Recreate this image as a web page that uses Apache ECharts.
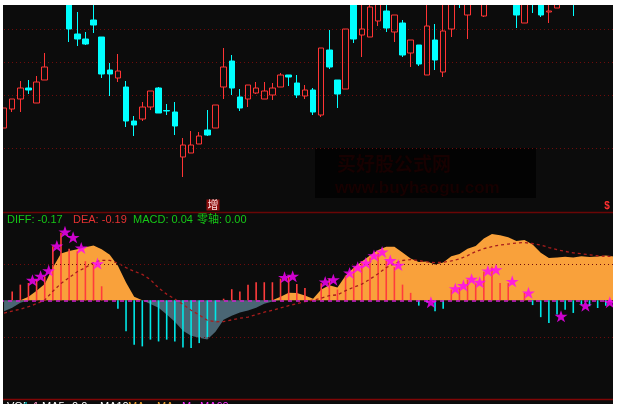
<!DOCTYPE html>
<html><head><meta charset="utf-8">
<style>html,body{margin:0;padding:0;background:#fff;}#c{width:618px;height:410px;}</style>
<script src="https://cdn.jsdelivr.net/npm/echarts@6/dist/echarts.min.js"></script>
</head><body><div id="c"></div>
<script>
// ---- data ----
const categories = Array.from({length: 76}, (_, i) => 'D' + (i + 1));
const openP  = [8.4,10.3,11.3,12.4,10.9,13.2,21.0,23.5,22.0,17.8, 17.3,19.2,17.5,14.2,13.4,12.5,9.1,9.3,10.5,12.4, 10.15,10.0,5.5,5.9,6.8,8.2,8.4,12.5,15.1,11.5, 11.3,11.9,11.3,11.7,12.5,13.7,12.9,11.6,12.2,9.7, 16.2,13.2,12.3,21.0,17.7,17.5,19.1,20.1,18.0,18.9, 15.9,16.7,13.7,17.2,14.0,18.3,22.5,19.7,21.5,19.6, 22.0,23.5,22.5,21.5,18.9,21.8,21.2,20.0,20.4,22.0, 21.8,21.5,22.0,22.6,22.2,22.8];
const closeP = [10.4,11.3,12.4,12.2,13.0,14.5,23.0,25.0,18.3,17.3, 16.8,18.7,13.8,13.8,14.1,9.1,8.7,10.5,12.1,9.9, 10.1,8.6,6.7,6.7,7.6,7.7,10.7,14.5,12.4,10.4, 12.7,12.4,12.1,12.4,13.7,13.5,11.7,12.2,10.0,16.4, 14.5,11.8,18.3,17.3,18.3,20.5,21.5,18.4,19.7,15.7, 17.2,14.8,18.6,15.2,18.1,21.2,21.6,21.5,22.5,22.0, 23.5,22.5,21.5,19.7,21.0,21.0,19.7,20.1,21.5,21.2, 21.0,22.0,22.6,22.2,22.8,22.4];
const lowP   = [8.4,10.0,10.0,11.8,10.9,13.2,20.9,22.8,17.0,16.6, 16.7,17.9,13.4,11.6,13.0,8.5,7.6,9.1,10.2,9.9, 9.7,7.7,3.5,5.9,6.8,7.6,8.4,11.3,11.7,10.1, 10.5,11.8,11.3,11.2,12.5,12.6,11.4,11.3,9.7,9.5, 14.3,10.4,12.3,16.9,15.5,17.5,18.6,18.0,17.0,15.5, 14.5,14.6,13.7,14.2,13.5,17.5,20.4,17.3,21.0,19.5, 21.0,21.5,21.0,18.4,18.9,19.9,19.5,18.9,20.4,20.9, 19.6,21.0,21.4,21.8,21.9,22.0];
const highP  = [10.4,11.3,13.1,13.2,13.6,15.9,23.4,25.5,24.0,20.0, 18.0,21.0,17.5,14.9,15.8,13.1,9.6,11.0,12.1,12.5, 10.8,11.0,7.4,8.1,8.0,10.2,10.7,16.4,15.7,12.3, 12.7,13.0,13.0,12.9,13.9,13.7,13.7,12.7,12.4,16.4, 18.2,13.2,18.3,21.5,21.0,21.5,22.0,21.2,19.7,19.2, 17.2,16.7,21.0,18.8,21.0,21.6,23.0,22.0,23.0,22.5, 24.0,24.0,23.0,22.0,21.5,22.0,21.5,21.0,22.0,22.4, 22.2,22.5,23.0,23.2,23.4,23.5];
const priceGridLevels = [18.27, 14.97, 11.67, 6.4];

const diffVals = [-0.06,-0.04,-0.013,0.02,0.053,0.09,0.18,0.256,0.27,0.28, 0.29,0.30,0.28,0.25,0.19,0.097,0.02,0.0,-0.02,-0.04, -0.078,-0.117,-0.166,-0.194,-0.205,-0.215,-0.172,-0.106,-0.084,-0.067, -0.056,-0.04,-0.018,-0.007,0.02,0.042,0.04,0.026,0.009,0.059, 0.082,0.07,0.135,0.179,0.212,0.245,0.275,0.293,0.294,0.262, 0.229,0.21,0.212,0.196,0.207,0.241,0.253,0.283,0.297,0.338, 0.363,0.356,0.346,0.325,0.33,0.305,0.26,0.232,0.234,0.238, 0.234,0.241,0.237,0.24,0.245,0.24];
const deaVals = [-0.07,-0.059,-0.048,-0.035,-0.018,0.001,0.05,0.092,0.124,0.157, 0.179,0.207,0.219,0.219,0.204,0.179,0.159,0.142,0.113,0.068, 0.034,0.007,-0.022,-0.054,-0.08,-0.109,-0.118,-0.116,-0.107,-0.098, -0.092,-0.078,-0.065,-0.054,-0.042,-0.029,-0.018,-0.007,0.001,0.012, 0.026,0.03,0.053,0.072,0.089,0.116,0.146,0.179,0.201,0.218, 0.223,0.218,0.21,0.206,0.209,0.216,0.226,0.245,0.267,0.283, 0.294,0.303,0.308,0.314,0.316,0.311,0.303,0.289,0.277,0.268, 0.26,0.255,0.249,0.244,0.241,0.24];
const macdVals = [0,0.049,0.086,0.095,0.113,0.132,0.296,0.37,0.283,0.269, 0.214,0.196,0.077,0,-0.046,-0.169,-0.243,-0.252,-0.215,-0.225, -0.215,-0.225,-0.258,-0.261,-0.234,-0.202,-0.111,0.009,0.061,0.049, 0.085,0.099,0.099,0.099,0.119,0.13,0.089,0.068,0,0.093, 0.119,0.059,0.135,0.178,0.214,0.234,0.26,0.218,0.182,0.086, 0.041,-0.029,-0.012,-0.06,-0.046,0.059,0.07,0.113,0.092,0.157, 0.185,0.095,0.095,0,0.041,-0.026,-0.092,-0.124,-0.078,-0.051, -0.069,-0.024,-0.032,-0.042,-0.03,-0.02];
const starVals = [null,null,null,0.11,0.132,0.163,0.298,0.375,0.345,0.287, null,0.201,null,null,null,null,null,null,null,null, null,null,null,null,null,null,null,null,null,null, null,null,null,null,0.126,0.132,null,null,null,0.101, 0.113,null,0.15,0.181,0.205,0.245,0.265,0.218,0.193,null, null,null,-0.01,null,null,0.064,0.081,0.116,0.099,0.161, 0.168,null,0.104,null,0.041,null,null,null,-0.087,null, null,-0.029,null,null,-0.01,null];
const macdGridLevels = [0.2, -0.2];

const legendItems = [
  {text: 'DIFF: -0.17', x: 7, color: '#16c816'},
  {text: 'DEA: -0.19', x: 73, color: '#e83232'},
  {text: 'MACD: 0.04', x: 133, color: '#16c816'},
  {text: '零轴: 0.00', x: 197, color: '#16c816'}
];

// ---- chart ----
const chart = echarts.init(document.getElementById('c'), null, {renderer: 'canvas'});
const candleData = categories.map((_, i) => [openP[i], closeP[i], lowP[i], highP[i]]);
const diffPos = diffVals.map(v => Math.max(v, 0));
const diffNeg = diffVals.map(v => Math.min(v, 0));
const starPath = 'path://M50,0 L61.8,35.3 L99,35.3 L69,57.1 L80.9,92.7 L50,70.9 L19.1,92.7 L31,57.1 L1,35.3 L38.2,35.3 Z';
const FONT = '"Liberation Sans", Arial, "Noto Sans CJK SC", sans-serif';

const graphics = [
  {type: 'rect', z: 0, shape: {x: 315, y: 148, width: 221, height: 50}, style: {fill: '#030303'}, silent: true},
  {type: 'text', z: 1, style: {text: '买好股公式网', x: 337, y: 164, fill: '#170101', font: 'bold 19px "Noto Sans CJK SC", sans-serif', textVerticalAlign: 'middle', verticalAlign: 'middle'}, silent: true},
  {type: 'text', z: 1, style: {text: 'www.buyhaogu.com', x: 335, y: 188, fill: '#170101', font: 'bold 17px ' + FONT, textVerticalAlign: 'middle', verticalAlign: 'middle'}, silent: true},
  {type: 'line', z: 50, shape: {x1: 3, y1: 212.5, x2: 613, y2: 212.5}, style: {stroke: '#6a0606', lineWidth: 1.5}, silent: true},
  {type: 'line', z: 50, shape: {x1: 3, y1: 399.5, x2: 613, y2: 399.5}, style: {stroke: '#800606', lineWidth: 1.5}, silent: true},
  {type: 'text', z: 60, style: {text: '增', x: 213, y: 205, fill: '#ffdede', backgroundColor: '#8c0e0e', padding: [0, 1, 0, 1], font: '11px "Noto Sans CJK SC", sans-serif', textAlign: 'center', align: 'center', textVerticalAlign: 'middle', verticalAlign: 'middle'}, silent: true},
  {type: 'text', z: 60, style: {text: '$', x: 607, y: 206, fill: '#ff3030', font: 'bold 10px ' + FONT, textAlign: 'center', align: 'center', textVerticalAlign: 'middle', verticalAlign: 'middle'}, silent: true}
];
legendItems.forEach(it => graphics.push({type: 'text', z: 60, style: {text: it.text, x: it.x, y: 220, fill: it.color, font: '11px ' + FONT, textVerticalAlign: 'middle', verticalAlign: 'middle'}, silent: true}));
// partially visible bottom text row (cut by frame)
[['VOL', 7, '#ffffff'], ['1', 23, '#00b0b0'], ['1', 33, '#ff9ccc'], ['MA5', 42, '#ffffff'], ['0.0', 72, '#ffffff'], ['MA10', 100, '#ffffff'], ['MA', 128, '#f0a030'], ['MA', 157, '#f0a030'], ['M', 182, '#ff30ff'], ['MA60', 200, '#ff30ff']]
  .forEach(t => graphics.push({type: 'text', z: 60, style: {text: t[0], x: t[1], y: 401.5, fill: t[2], font: '11px ' + FONT, textVerticalAlign: 'top', verticalAlign: 'top'}, silent: true}));
// white frame masks
[[0, 0, 618, 5], [0, 0, 3, 410], [613, 0, 5, 410], [0, 404, 618, 6]].forEach(r =>
  graphics.push({type: 'rect', z: 100, shape: {x: r[0], y: r[1], width: r[2], height: r[3]}, style: {fill: '#ffffff'}, silent: true}));

const noLabel = {show: false};
const option = {
  animation: false,
  backgroundColor: '#0c0c0c',
  grid: [
    {left: -2.1, width: 623.2, top: 5, height: 207},
    {left: -2.1, width: 623.2, top: 230, height: 169}
  ],
  xAxis: [
    {type: 'category', gridIndex: 0, data: categories, boundaryGap: true, show: false},
    {type: 'category', gridIndex: 1, data: categories, boundaryGap: true, show: false}
  ],
  yAxis: [
    {type: 'value', gridIndex: 0, min: 0, max: 20.7, show: false, splitLine: {show: false}},
    {type: 'value', gridIndex: 1, min: -0.54, max: 0.385, show: false, splitLine: {show: false}}
  ],
  graphic: {elements: graphics},
  series: [
    {type: 'candlestick', xAxisIndex: 0, yAxisIndex: 0, data: candleData, barWidth: 6, z: 3,
     itemStyle: {color: 'transparent', color0: '#00ffff', borderColor: '#ff3434', borderColor0: '#00ffff', borderWidth: 1},
     markLine: {silent: true, symbol: 'none', label: noLabel, z: 1,
       lineStyle: {color: '#6e0c0c', type: [1, 3], width: 1},
       data: priceGridLevels.map(v => ({yAxis: v}))}},
    {type: 'line', xAxisIndex: 1, yAxisIndex: 1, data: diffNeg, symbol: 'none', z: 2, silent: true,
     lineStyle: {width: 0, opacity: 0}, areaStyle: {color: '#4a6674', opacity: 1},
     markLine: {silent: true, symbol: 'none', label: noLabel,
       lineStyle: {color: '#6e0c0c', type: [1, 3], width: 1},
       data: macdGridLevels.map(v => ({yAxis: v}))}},
    {type: 'line', xAxisIndex: 1, yAxisIndex: 1, data: diffPos, symbol: 'none', z: 2, silent: true,
     lineStyle: {width: 0, opacity: 0}, areaStyle: {color: '#f9a13b', opacity: 1}},
    {type: 'bar', xAxisIndex: 1, yAxisIndex: 1, data: macdVals, barWidth: 1.6, z: 3, silent: true,
     itemStyle: {color: p => (p.value >= 0 ? '#ff3c3c' : '#00e8e8')}},
    {type: 'line', xAxisIndex: 1, yAxisIndex: 1, data: deaVals, symbol: 'none', z: 4, silent: true,
     lineStyle: {color: '#a81c1c', width: 1.3, type: [3, 3]},
     markLine: {silent: true, symbol: 'none', label: noLabel,
       lineStyle: {color: '#d020d0', type: [4, 4], width: 1.5},
       data: [{yAxis: 0}]}},
    {type: 'scatter', xAxisIndex: 1, yAxisIndex: 1, data: starVals.map(v => (v === null ? '-' : v)), z: 5, silent: true,
     symbol: starPath, symbolSize: [13, 12], symbolOffset: [4, 0],
     itemStyle: {color: '#ff00ff'}}
  ]
};
chart.setOption(option);
</script></body></html>
